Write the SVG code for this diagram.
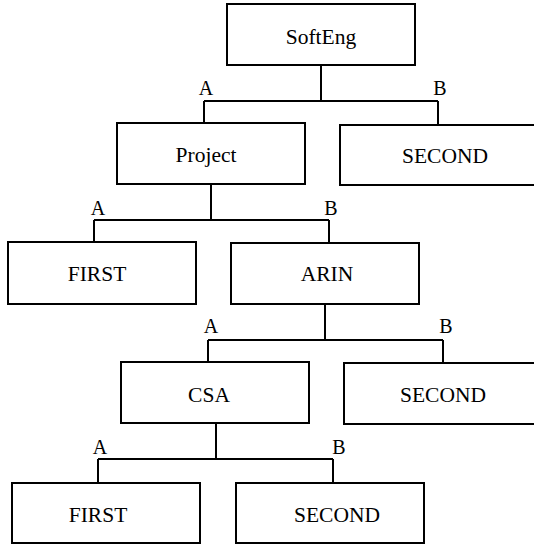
<svg xmlns="http://www.w3.org/2000/svg" width="534" height="544" viewBox="0 0 534 544">
<style>
.box{fill:#fff;stroke:#000;stroke-width:2}
.lbl{font-family:"Liberation Serif","Times New Roman",Times,serif;font-size:21.5px;text-anchor:middle;fill:#000}
.br{font-family:"Liberation Serif","Times New Roman",Times,serif;font-size:20px;text-anchor:middle;fill:#000}
.ln{fill:none;stroke:#000;stroke-width:2}
</style>
<rect width="534" height="544" fill="#fff"/>
<g id="connectors">
<path class="ln" d="M321 65V101M204 101H438M204 101V124M438 101V125"/>
<path class="ln" d="M211 184V220M94 220H329M94 220V243M329 220V243"/>
<path class="ln" d="M325 304V340M208 340H443M208 340V363M443 340V363"/>
<path class="ln" d="M216 423V459M98 459H333M98 459V483M333 459V483"/>
<text class="br" x="206" y="95">A</text>
<text class="br" x="440" y="95">B</text>
<text class="br" x="98" y="215">A</text>
<text class="br" x="331" y="215">B</text>
<text class="br" x="211" y="333">A</text>
<text class="br" x="446" y="333">B</text>
<text class="br" x="100" y="454">A</text>
<text class="br" x="339" y="454">B</text>
</g>
<g id="n-softeng"><rect class="box" x="227" y="4" width="188" height="61"/><text class="lbl" x="321" y="44">SoftEng</text></g>
<g id="n-project"><rect class="box" x="117" y="123" width="188" height="61"/><text class="lbl" x="206" y="162">Project</text></g>
<g id="n-second1"><rect class="box" x="340" y="125" width="200" height="60"/><text class="lbl" x="445" y="163">SECOND</text></g>
<g id="n-first1"><rect class="box" x="8" y="242" width="188" height="62"/><text class="lbl" x="97" y="281">FIRST</text></g>
<g id="n-arin"><rect class="box" x="231" y="243" width="188" height="61"/><text class="lbl" x="327" y="281">ARIN</text></g>
<g id="n-csa"><rect class="box" x="121" y="362" width="188" height="61"/><text class="lbl" x="209" y="402">CSA</text></g>
<g id="n-second2"><rect class="box" x="344" y="363" width="200" height="61"/><text class="lbl" x="443" y="402">SECOND</text></g>
<g id="n-first2"><rect class="box" x="12" y="483" width="188" height="60"/><text class="lbl" x="98" y="522">FIRST</text></g>
<g id="n-second3"><rect class="box" x="236" y="483" width="188" height="60"/><text class="lbl" x="337" y="522">SECOND</text></g>
</svg>
